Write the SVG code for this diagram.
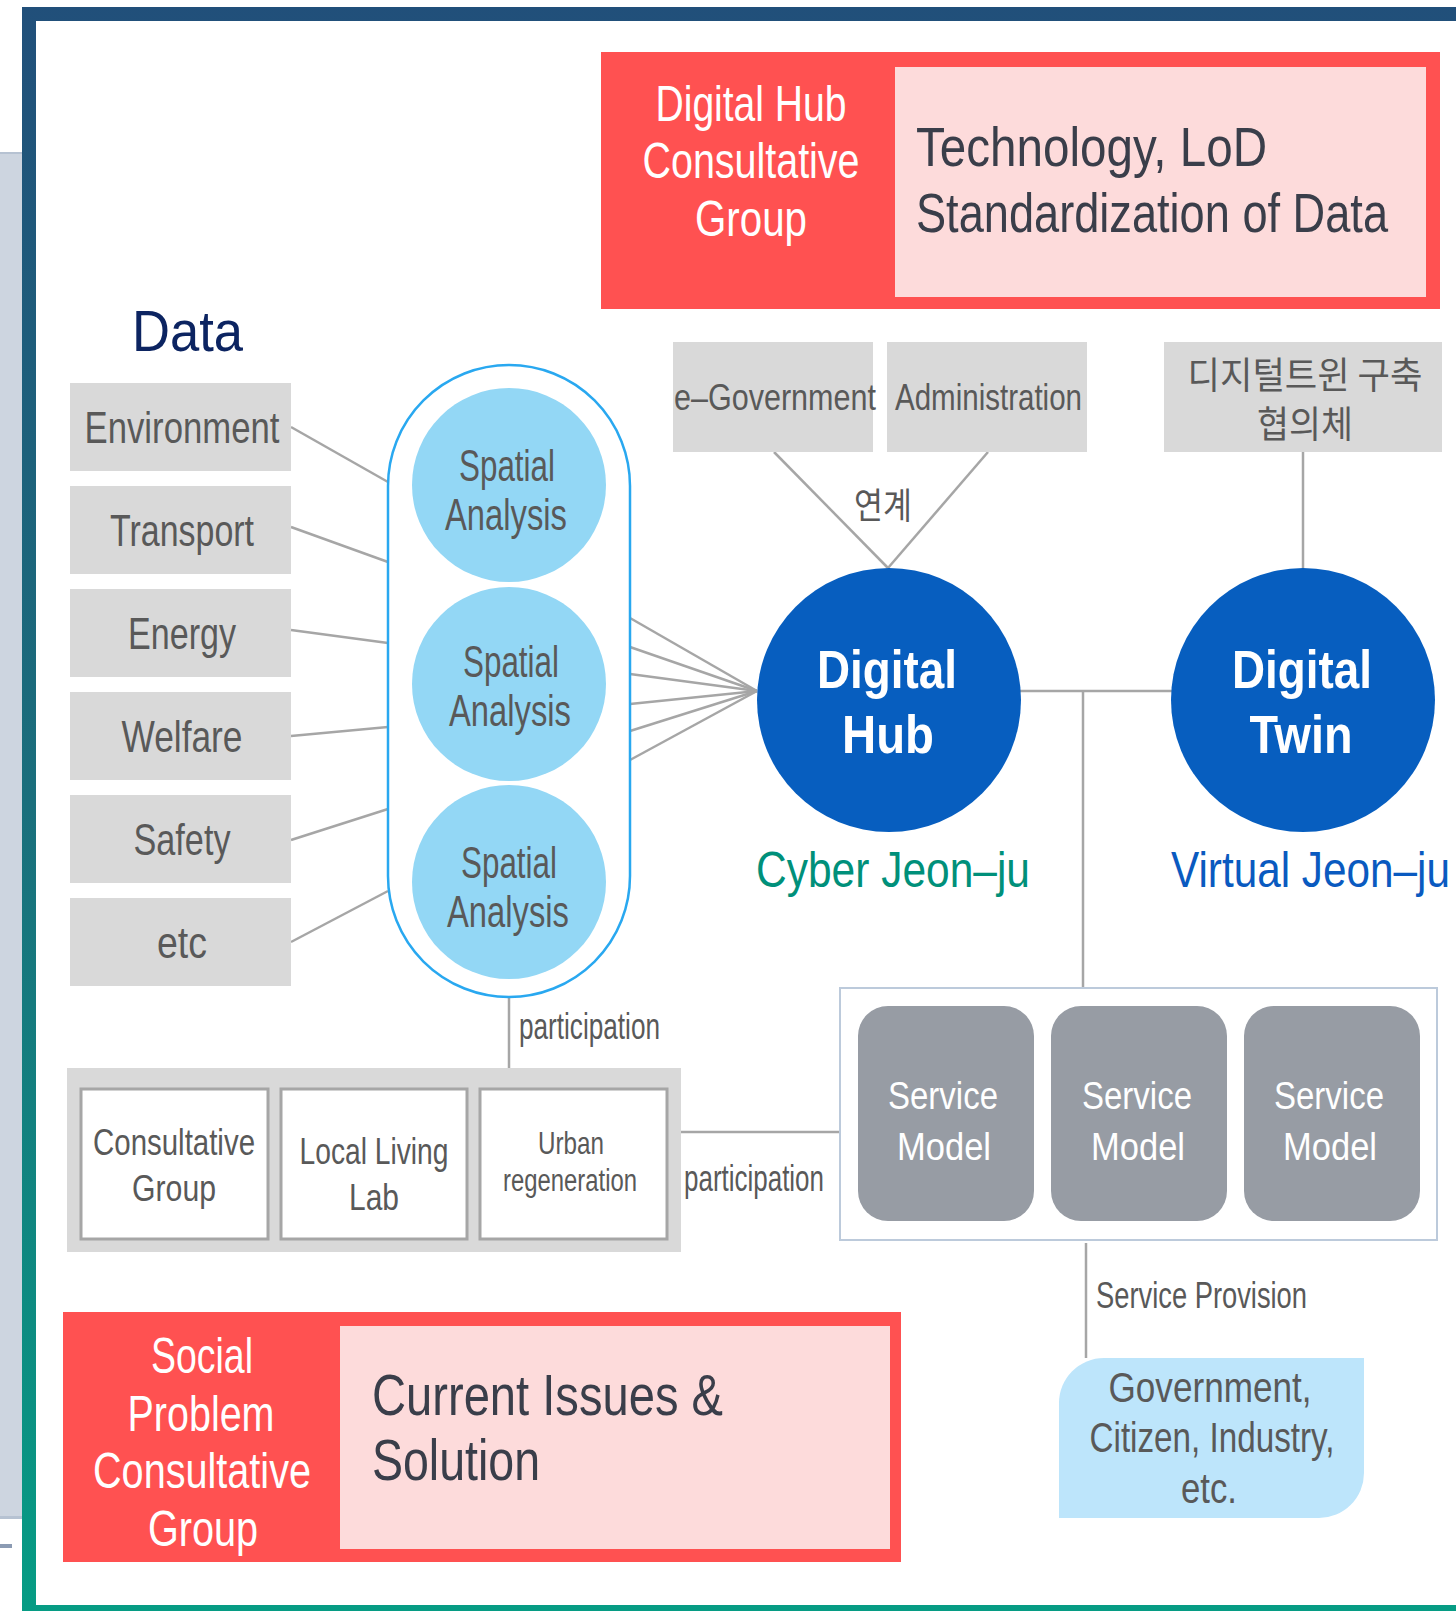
<svg xmlns="http://www.w3.org/2000/svg" width="1456" height="1611" viewBox="0 0 1456 1611">
<defs>
<linearGradient id="bord" gradientUnits="userSpaceOnUse" x1="0" y1="0" x2="0" y2="1611">
<stop offset="0" stop-color="#214f7a"/>
<stop offset="0.5" stop-color="#1a6f7c"/>
<stop offset="1" stop-color="#069c84"/>
</linearGradient>
<style>
text{font-family:"Liberation Sans",Arial,sans-serif;}
.kr{font-family:"Noto Sans CJK KR","Liberation Sans",sans-serif;}
.gbox{fill:#d9d9d9;}
.gt{fill:#595959;}
.wt{fill:#ffffff;}
.dk{fill:#3a3e4a;}
.ln{stroke:#a6a6a6;stroke-width:2.5;fill:none;}
.sa{fill:#93d7f5;}
.blue{fill:#075ebf;}
.sm{fill:#979ca4;}
.wb{fill:#ffffff;stroke:#a6a6a6;stroke-width:3;}
.red{fill:#ff5151;}
.pink{fill:#fddbdb;}
</style>
</defs>
<rect x="0" y="0" width="1456" height="1611" fill="#ffffff"/>
<g id="side">
<rect x="0" y="152" width="30" height="1366" fill="#cdd5e0"/>
<rect x="0" y="152" width="30" height="2" fill="#b6c2d2"/>
<rect x="0" y="1516" width="30" height="3" fill="#b6c2d2"/>
<rect x="0" y="1544" width="12" height="4" fill="#8b9bb3"/>
</g>
<rect id="frame" x="29" y="14" width="1460" height="1598" fill="none" stroke="url(#bord)" stroke-width="14"/>

<g id="connectors">
<line class="ln" x1="291" y1="427" x2="388" y2="482"/>
<line class="ln" x1="291" y1="527" x2="388" y2="562"/>
<line class="ln" x1="291" y1="630" x2="388" y2="643"/>
<line class="ln" x1="291" y1="736" x2="388" y2="727"/>
<line class="ln" x1="291" y1="840" x2="388" y2="809"/>
<line class="ln" x1="291" y1="942" x2="388" y2="891"/>
<line class="ln" x1="630" y1="618" x2="757" y2="691"/>
<line class="ln" x1="630" y1="647" x2="757" y2="691"/>
<line class="ln" x1="630" y1="674" x2="757" y2="691"/>
<line class="ln" x1="630" y1="704" x2="757" y2="691"/>
<line class="ln" x1="630" y1="731" x2="757" y2="691"/>
<line class="ln" x1="630" y1="760" x2="757" y2="691"/>
<line class="ln" x1="774" y1="452" x2="888" y2="568"/>
<line class="ln" x1="988" y1="452" x2="888" y2="568"/>
<line class="ln" x1="1303" y1="452" x2="1303" y2="569"/>
<line class="ln" x1="1020" y1="691" x2="1172" y2="691"/>
<line class="ln" x1="1083" y1="691" x2="1083" y2="988"/>
<line class="ln" x1="509" y1="997" x2="509" y2="1068"/>
<line class="ln" x1="681" y1="1132" x2="840" y2="1132"/>
<line class="ln" x1="1086" y1="1243" x2="1086" y2="1358"/>
</g>

<g id="digital-hub-group">
<rect class="red" x="601" y="52" width="839" height="257"/>
<rect class="pink" x="895" y="67" width="531" height="230"/>
<text class="wt" font-size="50" text-anchor="middle" x="751" y="121" textLength="191" lengthAdjust="spacingAndGlyphs">Digital Hub</text>
<text class="wt" font-size="50" text-anchor="middle" x="751" y="178" textLength="217" lengthAdjust="spacingAndGlyphs">Consultative</text>
<text class="wt" font-size="50" text-anchor="middle" x="751" y="236" textLength="112" lengthAdjust="spacingAndGlyphs">Group</text>
<text class="dk" font-size="56" text-anchor="middle" x="1091.5" y="166" textLength="351" lengthAdjust="spacingAndGlyphs">Technology, LoD</text>
<text class="dk" font-size="56" text-anchor="middle" x="1152" y="232" textLength="472" lengthAdjust="spacingAndGlyphs">Standardization of Data</text>
</g>

<g id="data-title">
<text font-size="58" fill="#0c2461" x="132" y="351" textLength="111" lengthAdjust="spacingAndGlyphs">Data</text>
</g>

<g id="data-environment">
<rect class="gbox" x="70" y="383" width="221" height="88"/>
<text class="gt" font-size="44" text-anchor="middle" x="182" y="443" textLength="195" lengthAdjust="spacingAndGlyphs">Environment</text>
</g>
<g id="data-transport">
<rect class="gbox" x="70" y="486" width="221" height="88"/>
<text class="gt" font-size="44" text-anchor="middle" x="182" y="546" textLength="144" lengthAdjust="spacingAndGlyphs">Transport</text>
</g>
<g id="data-energy">
<rect class="gbox" x="70" y="589" width="221" height="88"/>
<text class="gt" font-size="44" text-anchor="middle" x="182" y="649" textLength="108" lengthAdjust="spacingAndGlyphs">Energy</text>
</g>
<g id="data-welfare">
<rect class="gbox" x="70" y="692" width="221" height="88"/>
<text class="gt" font-size="44" text-anchor="middle" x="182" y="752" textLength="121" lengthAdjust="spacingAndGlyphs">Welfare</text>
</g>
<g id="data-safety">
<rect class="gbox" x="70" y="795" width="221" height="88"/>
<text class="gt" font-size="44" text-anchor="middle" x="182" y="855" textLength="97" lengthAdjust="spacingAndGlyphs">Safety</text>
</g>
<g id="data-etc">
<rect class="gbox" x="70" y="898" width="221" height="88"/>
<text class="gt" font-size="44" text-anchor="middle" x="182" y="958" textLength="50" lengthAdjust="spacingAndGlyphs">etc</text>
</g>

<g id="spatial-analysis">
<rect x="388" y="365" width="242" height="632" rx="121" ry="121" fill="#ffffff" stroke="#29a8f0" stroke-width="2.5"/>
<circle class="sa" cx="509" cy="485" r="97"/>
<circle class="sa" cx="509" cy="684" r="97"/>
<circle class="sa" cx="509" cy="882" r="97"/>
<text class="gt" font-size="45" text-anchor="middle" x="507" y="481" textLength="96" lengthAdjust="spacingAndGlyphs">Spatial</text>
<text class="gt" font-size="45" text-anchor="middle" x="506" y="530" textLength="122" lengthAdjust="spacingAndGlyphs">Analysis</text>
<text class="gt" font-size="45" text-anchor="middle" x="511" y="677" textLength="96" lengthAdjust="spacingAndGlyphs">Spatial</text>
<text class="gt" font-size="45" text-anchor="middle" x="510" y="726" textLength="122" lengthAdjust="spacingAndGlyphs">Analysis</text>
<text class="gt" font-size="45" text-anchor="middle" x="509" y="878" textLength="96" lengthAdjust="spacingAndGlyphs">Spatial</text>
<text class="gt" font-size="45" text-anchor="middle" x="508" y="927" textLength="122" lengthAdjust="spacingAndGlyphs">Analysis</text>
</g>

<g id="e-government">
<rect class="gbox" x="673" y="342" width="200" height="110"/>
<text class="gt" font-size="37" text-anchor="end" x="876" y="410" textLength="202" lengthAdjust="spacingAndGlyphs">e–Government</text>
</g>
<g id="administration">
<rect class="gbox" x="887" y="342" width="200" height="110"/>
<text class="gt" font-size="37" x="895" y="410" textLength="187" lengthAdjust="spacingAndGlyphs">Administration</text>
</g>
<g id="dt-council">
<rect class="gbox" x="1164" y="342" width="278" height="110"/>
<text class="gt kr" font-size="37" text-anchor="middle" x="1305" y="389" textLength="235" lengthAdjust="spacingAndGlyphs">디지털트윈 구축</text>
<text class="gt kr" font-size="37" text-anchor="middle" x="1305" y="438" textLength="96" lengthAdjust="spacingAndGlyphs">협의체</text>
</g>
<g id="link-label">
<text class="gt kr" font-size="36" text-anchor="middle" x="883" y="519" textLength="58" lengthAdjust="spacingAndGlyphs">연계</text>
</g>

<g id="digital-hub">
<circle class="blue" cx="889" cy="700" r="132"/>
<text class="wt" font-size="53" font-weight="bold" text-anchor="middle" x="887" y="688" textLength="140" lengthAdjust="spacingAndGlyphs">Digital</text>
<text class="wt" font-size="53" font-weight="bold" text-anchor="middle" x="888" y="753" textLength="92" lengthAdjust="spacingAndGlyphs">Hub</text>
<text font-size="50" fill="#00907a" x="756" y="887" textLength="274" lengthAdjust="spacingAndGlyphs">Cyber Jeon–ju</text>
</g>
<g id="digital-twin">
<circle class="blue" cx="1303" cy="700" r="132"/>
<text class="wt" font-size="53" font-weight="bold" text-anchor="middle" x="1302" y="688" textLength="140" lengthAdjust="spacingAndGlyphs">Digital</text>
<text class="wt" font-size="53" font-weight="bold" text-anchor="middle" x="1301" y="753" textLength="103" lengthAdjust="spacingAndGlyphs">Twin</text>
<text font-size="50" fill="#0a5ac0" text-anchor="end" x="1450" y="887" textLength="279" lengthAdjust="spacingAndGlyphs">Virtual Jeon–ju</text>
</g>

<g id="participation-label-1">
<text class="gt" font-size="36" x="519" y="1039" textLength="141" lengthAdjust="spacingAndGlyphs">participation</text>
</g>

<g id="participation-group">
<rect class="gbox" x="67" y="1068" width="614" height="184"/>
<rect class="wb" x="81" y="1089" width="187" height="150"/>
<rect class="wb" x="281" y="1089" width="186" height="150"/>
<rect class="wb" x="480" y="1089" width="187" height="150"/>
<text class="gt" font-size="37" text-anchor="middle" x="174" y="1155" textLength="162" lengthAdjust="spacingAndGlyphs">Consultative</text>
<text class="gt" font-size="37" text-anchor="middle" x="174" y="1201" textLength="84" lengthAdjust="spacingAndGlyphs">Group</text>
<text class="gt" font-size="37" text-anchor="middle" x="374" y="1164" textLength="149" lengthAdjust="spacingAndGlyphs">Local Living</text>
<text class="gt" font-size="37" text-anchor="middle" x="374" y="1210" textLength="50" lengthAdjust="spacingAndGlyphs">Lab</text>
<text class="gt" font-size="32" text-anchor="middle" x="571" y="1154" textLength="66" lengthAdjust="spacingAndGlyphs">Urban</text>
<text class="gt" font-size="31" text-anchor="middle" x="570" y="1191" textLength="134" lengthAdjust="spacingAndGlyphs">regeneration</text>
</g>

<g id="participation-label-2">
<text class="gt" font-size="36" x="684" y="1191" textLength="140" lengthAdjust="spacingAndGlyphs">participation</text>
</g>

<g id="service-models">
<rect x="840" y="988" width="597" height="252" fill="#ffffff" stroke="#bccadb" stroke-width="2"/>
<rect class="sm" x="858" y="1006" width="176" height="215" rx="30" ry="30"/>
<rect class="sm" x="1051" y="1006" width="176" height="215" rx="30" ry="30"/>
<rect class="sm" x="1244" y="1006" width="176" height="215" rx="30" ry="30"/>
<text class="wt" font-size="39" text-anchor="middle" x="943" y="1109" textLength="110" lengthAdjust="spacingAndGlyphs">Service</text>
<text class="wt" font-size="39" text-anchor="middle" x="944" y="1160" textLength="94" lengthAdjust="spacingAndGlyphs">Model</text>
<text class="wt" font-size="39" text-anchor="middle" x="1137" y="1109" textLength="110" lengthAdjust="spacingAndGlyphs">Service</text>
<text class="wt" font-size="39" text-anchor="middle" x="1138" y="1160" textLength="94" lengthAdjust="spacingAndGlyphs">Model</text>
<text class="wt" font-size="39" text-anchor="middle" x="1329" y="1109" textLength="110" lengthAdjust="spacingAndGlyphs">Service</text>
<text class="wt" font-size="39" text-anchor="middle" x="1330" y="1160" textLength="94" lengthAdjust="spacingAndGlyphs">Model</text>
</g>

<g id="service-provision-label">
<text class="gt" font-size="37" x="1096" y="1308" textLength="211" lengthAdjust="spacingAndGlyphs">Service  Provision</text>
</g>

<g id="customers">
<path d="M1104,1358 H1364 V1473 A45,45 0 0 1 1319,1518 H1059 V1403 A45,45 0 0 1 1104,1358 Z" fill="#bde5fb"/>
<text class="gt" font-size="42" text-anchor="middle" x="1210" y="1402" textLength="203" lengthAdjust="spacingAndGlyphs">Government,</text>
<text class="gt" font-size="42" text-anchor="middle" x="1212" y="1452" textLength="245" lengthAdjust="spacingAndGlyphs">Citizen, Industry,</text>
<text class="gt" font-size="42" text-anchor="middle" x="1209" y="1503" textLength="56" lengthAdjust="spacingAndGlyphs">etc.</text>
</g>

<g id="social-problem-group">
<rect class="red" x="63" y="1312" width="838" height="250"/>
<rect class="pink" x="340" y="1326" width="550" height="223"/>
<text class="wt" font-size="50" text-anchor="middle" x="202" y="1373" textLength="102" lengthAdjust="spacingAndGlyphs">Social</text>
<text class="wt" font-size="50" text-anchor="middle" x="201" y="1431" textLength="147" lengthAdjust="spacingAndGlyphs">Problem</text>
<text class="wt" font-size="50" text-anchor="middle" x="202" y="1488" textLength="218" lengthAdjust="spacingAndGlyphs">Consultative</text>
<text class="wt" font-size="50" text-anchor="middle" x="203" y="1546" textLength="110" lengthAdjust="spacingAndGlyphs">Group</text>
<text class="dk" font-size="58" x="372" y="1415" textLength="351" lengthAdjust="spacingAndGlyphs">Current Issues &amp;</text>
<text class="dk" font-size="58" x="372" y="1480" textLength="168" lengthAdjust="spacingAndGlyphs">Solution</text>
</g>
</svg>
